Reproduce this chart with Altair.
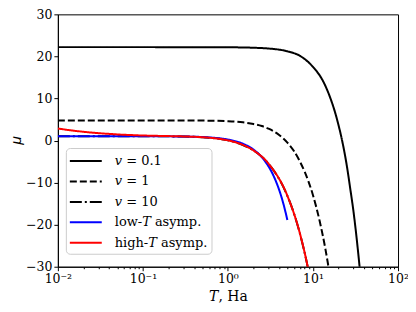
import altair as alt
import pandas as pd

# ---- data ----
T_v01 = [0.01, 0.1, 1, 2, 3, 5, 7, 10, 13, 16, 18, 20, 22, 25, 27.5, 30, 33, 35, 36]
mu_v01 = [22.21, 22.21, 22.17, 22.06, 21.88, 21.22, 20.15, 17.5, 14.3, 10.1, 7.0, 3.6, 0.0,
          -6.0, -11.6, -17.0, -24.2, -29.2, -31.7]

T_v1 = [0.01, 0.1, 0.5, 1, 1.5, 2, 2.5, 3, 3.5, 4, 5, 6, 7, 8, 10, 12, 14, 15, 16]
mu_v1 = [4.785, 4.78, 4.74, 4.60, 4.34, 3.92, 3.44, 2.82, 2.11, 1.32, -0.5, -2.56, -4.94,
         -7.47, -13.0, -19.2, -25.8, -29.3, -32.8]

T_v10 = [0.01, 0.05, 0.1, 0.2, 0.3, 0.4, 0.5, 0.6, 0.7, 0.85, 1.0, 1.25, 1.5, 2, 2.5, 3,
         4, 5, 6, 7, 8, 8.5, 9]
mu_v10 = [1.031, 1.030, 1.023, 0.997, 0.951, 0.875, 0.783, 0.667, 0.534, 0.304, 0.04, -0.46,
          -1.05, -2.36, -3.86, -5.50, -9.14, -13.14, -17.45, -22.0, -26.8, -29.2, -31.7]

T_low = [0.01, 0.1, 0.3, 0.5, 0.75, 1, 1.5, 2, 2.5, 3, 3.5, 4, 4.5, 5]
mu_low = [1.031, 1.023, 0.959, 0.832, 0.583, 0.234, -0.763, -2.158, -3.952, -6.145,
          -8.736, -11.725, -15.114, -18.90]

T_high = [0.01, 0.02, 0.03, 0.05, 0.1, 0.2, 0.3, 0.5, 0.7, 1, 1.5, 2, 3, 5, 7, 8.5, 9]
mu_high = [2.85, 2.08, 1.76, 1.46, 1.20, 1.06, 0.978, 0.79, 0.54, 0.04, -1.04, -2.36,
           -5.50, -13.14, -22.0, -29.2, -31.7]

series_names = ["𝑣 = 0.1", "𝑣 = 1", "𝑣 = 10", "low-𝑇 asymp.", "high-𝑇 asymp."]
series_colors = ["black", "black", "black", "blue", "red"]
series_dashes = [[1, 0], [7, 3], [12, 3, 2, 3], [1, 0], [1, 0]]
series_widths = [2, 2, 2, 0.9, 0.9]

x_major = [0.01, 0.1, 1, 10, 100]
x_minor = [0.02, 0.03, 0.04, 0.05, 0.06, 0.07, 0.08, 0.09,
           0.2, 0.3, 0.4, 0.5, 0.6, 0.7, 0.8, 0.9,
           2, 3, 4, 5, 6, 7, 8, 9,
           20, 30, 40, 50, 60, 70, 80, 90]
y_ticks = [-30, -20, -10, 0, 10, 20, 30]

rows = []
for name, Ts, mus in zip(series_names,
                         [T_v01, T_v1, T_v10, T_low, T_high],
                         [mu_v01, mu_v1, mu_v10, mu_low, mu_high]):
    for t, m in zip(Ts, mus):
        rows.append({"T": t, "mu": m, "series": name})
df = pd.DataFrame(rows)

major_test = " || ".join(f"datum.value == {v}" for v in x_major)
label_expr = ("datum.value == 0.01 ? '10⁻²' : datum.value == 0.1 ? '10⁻¹' : "
              "datum.value == 1 ? '10⁰' : datum.value == 10 ? '10¹' : "
              "datum.value == 100 ? '10²' : ''")

legend = alt.Legend(
    title=None, orient="none", legendX=8, legendY=134,
    symbolType="M-2,0H2", symbolSize=256, symbolOffset=7,
    labelOffset=20, rowPadding=4.5, padding=4,
    labelFont="DejaVu Serif", labelFontSize=13, labelColor="black",
    strokeColor="#cccccc", fillColor="white", cornerRadius=4,
)

chart = alt.Chart(df).mark_line(clip=True, interpolate="monotone").encode(
    x=alt.X("T:Q", title="𝑇, Ha",
            scale=alt.Scale(type="log", domain=[0.01, 100], nice=False),
            axis=alt.Axis(values=x_major + x_minor, labelExpr=label_expr,
                          labelOverlap=False, labelFlush=False,
                          tickSize={"condition": {"test": major_test, "value": 4}, "value": 2},
                          titlePadding=4, labelPadding=2)),
    y=alt.Y("mu:Q", title="𝜇",
            scale=alt.Scale(domain=[-30, 30], nice=False, zero=False),
            axis=alt.Axis(values=y_ticks, labelFlush=False, tickSize=4,
                          titleFontSize=15, titlePadding=2, labelPadding=2)),
    color=alt.Color("series:N", scale=alt.Scale(domain=series_names, range=series_colors),
                    legend=legend),
    strokeDash=alt.StrokeDash("series:N", scale=alt.Scale(domain=series_names, range=series_dashes),
                              legend=legend),
    strokeWidth=alt.StrokeWidth("series:N", scale=alt.Scale(domain=series_names, range=series_widths),
                                legend=legend),
).properties(
    width=341, height=253,
    autosize=alt.AutoSizeParams(type="none"),
    padding={"left": 50, "top": 6, "right": 10, "bottom": 40},
).configure_view(
    stroke="black", strokeWidth=1
).configure_axis(
    grid=False, domainColor="black", tickColor="black", labelColor="black",
    labelFont="DejaVu Serif", labelFontSize=12.5,
    titleFont="DejaVu Serif", titleFontSize=14, titleFontWeight="normal", titleColor="black",
    tickWidth=1, domainWidth=1,
)

chart.save("out.html", embed_options={"renderer": "svg", "actions": False})
